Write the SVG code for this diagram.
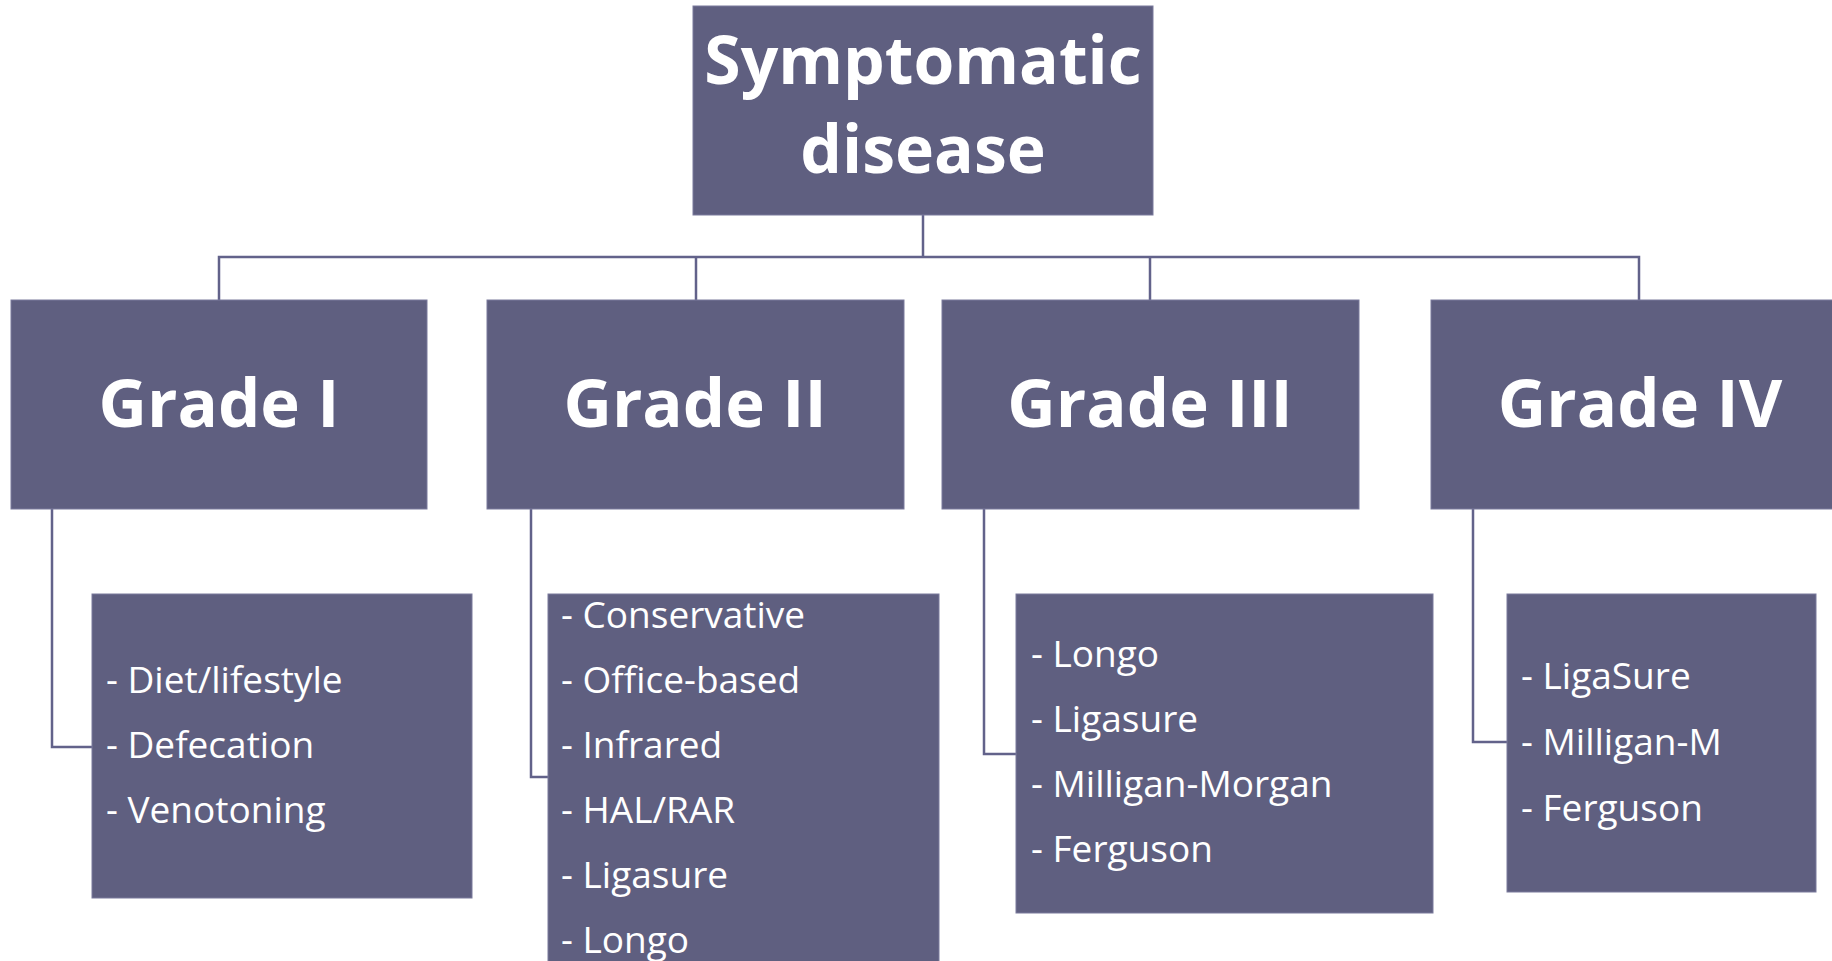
<svg xmlns="http://www.w3.org/2000/svg" width="1832" height="961" viewBox="0 0 1832 961">
<style>
.box{fill:#5f5f80;stroke:#7a7a9c;stroke-width:1}
.conn{fill:none;stroke:#62628a;stroke-width:2.5}
.title{font-family:"Open Sans","Liberation Sans",sans-serif;font-weight:bold;fill:#ffffff;text-anchor:middle}
.item{font-family:"Open Sans","Liberation Sans",sans-serif;font-size:37px;fill:#ffffff}
</style>
<rect width="1832" height="961" fill="#ffffff"/>
<g id="connectors">
<path class="conn" d="M923 215 V257"/>
<path class="conn" d="M219 300 V257 H1639 V300"/>
<path class="conn" d="M696 257 V300"/>
<path class="conn" d="M1150 257 V300"/>
<path class="conn" d="M52 509 V747 H92"/>
<path class="conn" d="M531 509 V777 H548"/>
<path class="conn" d="M984 509 V754 H1016"/>
<path class="conn" d="M1473 509 V742 H1507"/>
</g>
<g id="root">
<rect class="box" x="693" y="6" width="460" height="209"/>
<text class="title" x="923" y="84" font-size="66">Symptomatic</text>
<text class="title" x="923" y="173" font-size="66">disease</text>
</g>
<g id="grade1">
<rect class="box" x="11" y="300" width="416" height="209"/>
<text class="title" x="219" y="427" font-size="67">Grade I</text>
</g>
<g id="grade2">
<rect class="box" x="487" y="300" width="417" height="209"/>
<text class="title" x="695" y="427" font-size="67">Grade II</text>
</g>
<g id="grade3">
<rect class="box" x="942" y="300" width="417" height="209"/>
<text class="title" x="1150" y="427" font-size="67">Grade III</text>
</g>
<g id="grade4">
<rect class="box" x="1431" y="300" width="417" height="209"/>
<text class="title" x="1640" y="427" font-size="67">Grade IV</text>
</g>
<g id="treat1">
<rect class="box" x="92" y="594" width="380" height="304"/>
<text class="item" x="106" y="693">- Diet/lifestyle</text>
<text class="item" x="106" y="758">- Defecation</text>
<text class="item" x="106" y="823">- Venotoning</text>
</g>
<g id="treat2">
<rect class="box" x="548" y="594" width="391" height="380"/>
<text class="item" x="561" y="628">- Conservative</text>
<text class="item" x="561" y="693">- Office-based</text>
<text class="item" x="561" y="758">- Infrared</text>
<text class="item" x="561" y="823">- HAL/RAR</text>
<text class="item" x="561" y="888">- Ligasure</text>
<text class="item" x="561" y="953">- Longo</text>
</g>
<g id="treat3">
<rect class="box" x="1016" y="594" width="417" height="319"/>
<text class="item" x="1031" y="667">- Longo</text>
<text class="item" x="1031" y="732">- Ligasure</text>
<text class="item" x="1031" y="797">- Milligan-Morgan</text>
<text class="item" x="1031" y="862">- Ferguson</text>
</g>
<g id="treat4">
<rect class="box" x="1507" y="594" width="309" height="298"/>
<text class="item" x="1521" y="689">- LigaSure</text>
<text class="item" x="1521" y="755">- Milligan-M</text>
<text class="item" x="1521" y="821">- Ferguson</text>
</g>
</svg>
